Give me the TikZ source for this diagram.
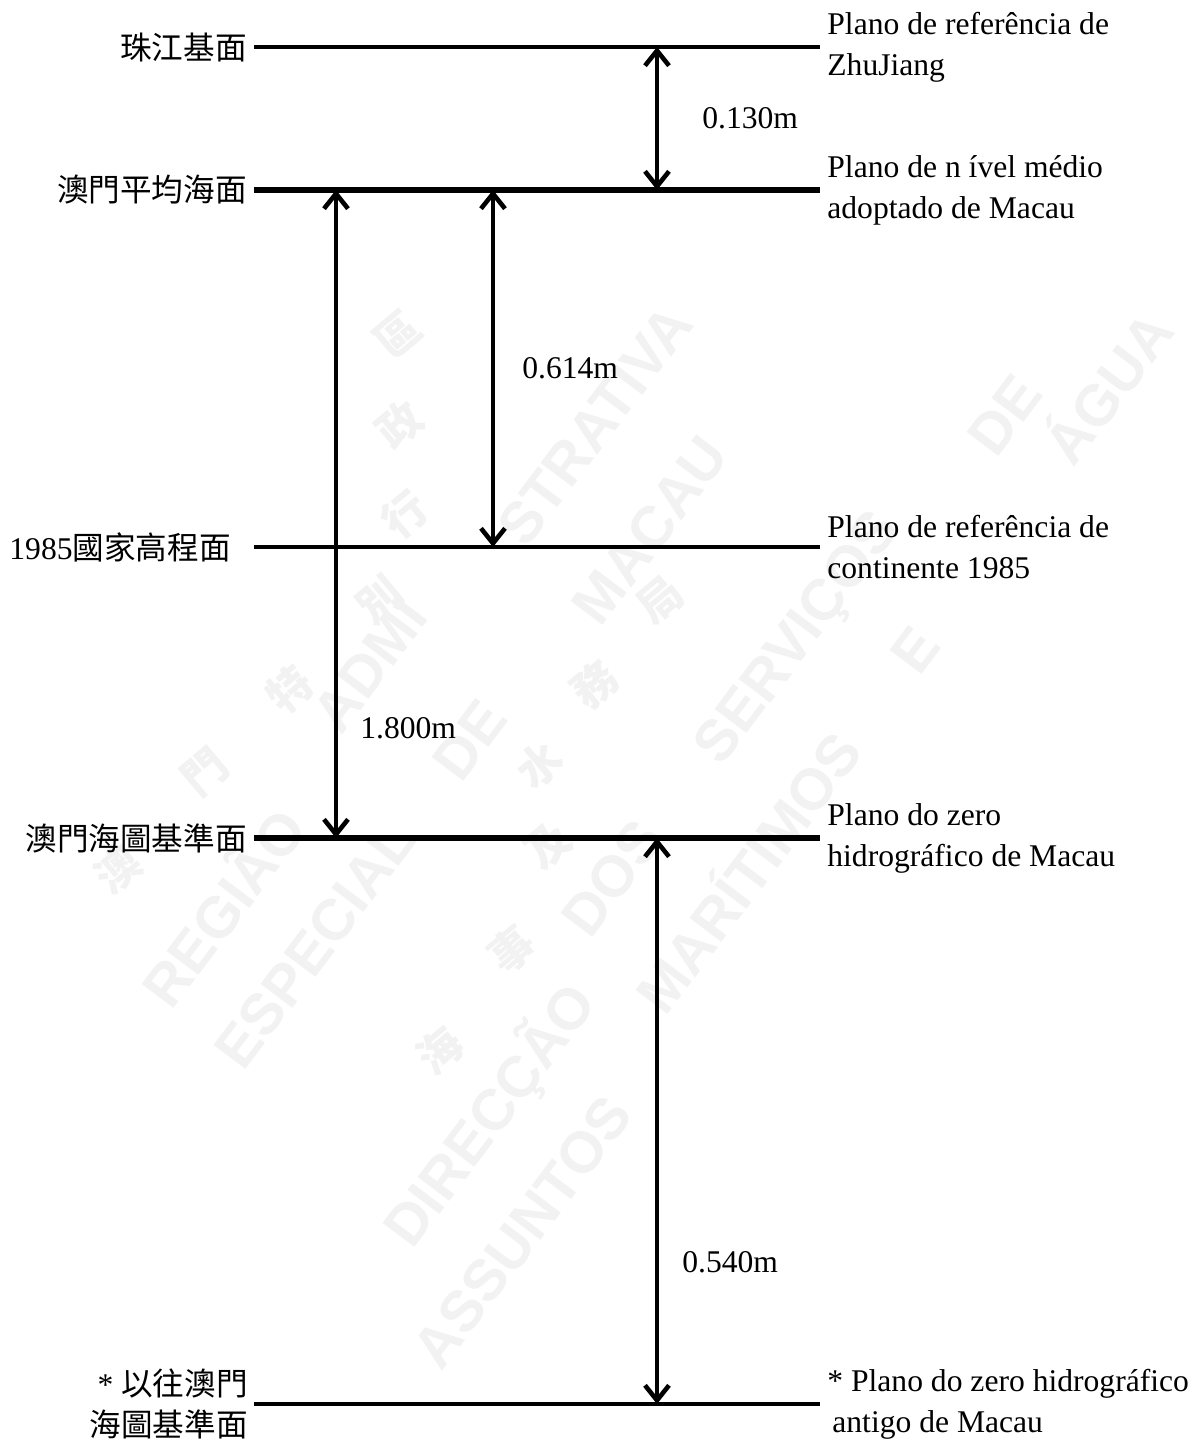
\documentclass[tikz,border=0pt]{standalone}
\usepackage{fontspec}
\setmainfont{Liberation Serif}
\newfontfamily\cjk{Noto Sans CJK TC}
\newfontfamily\wmfont{Liberation Sans}
\usetikzlibrary{arrows.meta}

\tikzset{
  datum/.style={line width=1.6pt},
  main datum/.style={line width=2.8pt},
  gap/.style={line width=2.3pt,
    {Straight Barb[length=7.5pt,width=12pt]}-{Straight Barb[length=7.5pt,width=12pt]}},
  lbl/.style={font=\fontsize{15.8}{20.5}\selectfont, inner sep=0pt},
  wm/.style={text=black!5, font=\fontsize{29}{29}\selectfont\wmfont\bfseries, rotate=53, inner sep=0pt},
  wmc/.style={text=black!5, font=\fontsize{22}{22}\selectfont\cjk\bfseries, rotate=40, inner sep=0pt},
}

\begin{document}
\begin{tikzpicture}[x=0.5pt,y=-0.5pt]
        \useasboundingbox (0,0) rectangle (1197,1440);
        % watermark
        \foreach \w/\x/\y in {REGIÃO/220/905, ADMI/370/665, STRATIVA/595/425,
                              ESPECIAL/315/945, DE/470/740, MACAU/650/530,
                              DIRECÇÃO/490/1115, DOS/612/878, SERVIÇOS/800/640, DE/1005/415,
                              ASSUNTOS/522/1232, MARÍTIMOS/745/870, E/915/650, ÁGUA/1105/385}
            \node[wm] at (\x,\y) {\w};
        \foreach \c/\x/\y in {澳/118/870, 門/205/772, 特/290/690, 別/380/600, 行/405/515, 政/400/425, 區/398/335,
                              海/440/1050, 事/512/950, 及/548/845, 水/540/765, 務/595/685, 局/660/600}
            \node[wmc] at (\x,\y) {\c};
        % ends of the datum lines
        \coordinate (zjL) at (254,47);    \coordinate (zjR) at (820,47);
        \coordinate (mslL) at (254,190);  \coordinate (mslR) at (820,190);
        \coordinate (cnL) at (254,547);   \coordinate (cnR) at (820,547);
        \coordinate (cdL) at (254,838);   \coordinate (cdR) at (820,838);
        \coordinate (oldL) at (254,1404); \coordinate (oldR) at (820,1404);
        \draw[datum] (zjL) -- (zjR);
        \draw[main datum] (mslL) -- (mslR);
        \draw[datum] (cnL) -- (cnR);
        \draw[main datum] (cdL) -- (cdR);
        \draw[datum] (oldL) -- (oldR);
        % chinese names
        \node[lbl, anchor=east] (zjC) at (247,47) {\cjk 珠江基面};
        \node[lbl, anchor=east] (mslC) at (247,190) {\cjk 澳門平均海面};
        \node[lbl, anchor=east] (cnC) at (231,547) {1985{\cjk 國家高程面}};
        \node[lbl, anchor=east] (cdC) at (247,838) {\cjk 澳門海圖基準面};
        \node[lbl, anchor=east, align=right] (oldC) at (248,1404) {* {\cjk 以往澳門}\\{\cjk 海圖基準面}};
        % portuguese names
        \node[lbl, anchor=west, align=left] (zjP) at (827,47) {Plano de referência de\\ZhuJiang};
        \node[lbl, anchor=west, align=left] (mslP) at (827,190) {Plano de n ível médio\\adoptado de Macau};
        \node[lbl, anchor=west, align=left] (cnP) at (827,547) {Plano de referência de\\continente 1985};
        \node[lbl, anchor=west, align=left] (cdP) at (827,838) {Plano do zero\\hidrográfico de Macau};
        \node[lbl, anchor=west, align=left] (oldP) at (827,1404) {* Plano do zero hidrográfico\\\hspace*{2.5pt}antigo de Macau};
        % differences
        \coordinate (t130) at (657,47);  \coordinate (b130) at (657,190);
        \coordinate (t614) at (493,190); \coordinate (b614) at (493,547);
        \coordinate (t180) at (336,190); \coordinate (b180) at (336,838);
        \coordinate (t540) at (657,838); \coordinate (b540) at (657,1404);
        \draw[gap] (t130) -- node[lbl, pos=.5, right=21.5pt] (d130) {0.130m} (b130);
        \draw[gap] (t614) -- node[lbl, pos=.5, right=13.5pt] (d614) {0.614m} (b614);
        \draw[gap] (t180) -- node[lbl, pos=.83, right=11pt] (d180) {1.800m} (b180);
        \draw[gap] (t540) -- node[lbl, pos=.75, right=11.5pt] (d540) {0.540m} (b540);
    \end{tikzpicture}
\end{document}
